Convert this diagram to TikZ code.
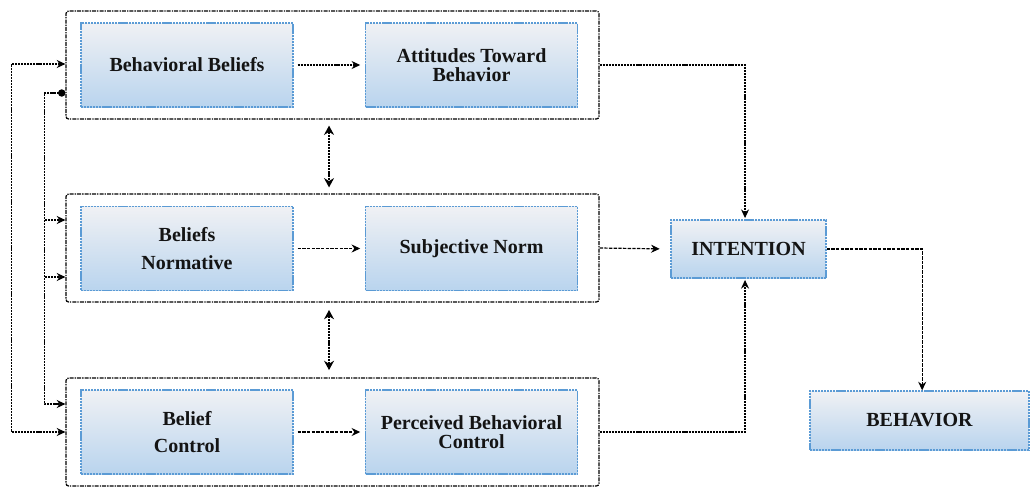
\documentclass[tikz,border=0pt]{standalone}
\usepackage{fontspec}
\setmainfont{Liberation Serif}[BoldFont={Liberation Serif Bold}]
\newfontfamily\boxfont{Liberation Serif Bold}
\usetikzlibrary{arrows.meta,positioning,calc}
\definecolor{boxtop}{HTML}{F0F1F4}
\definecolor{boxbot}{HTML}{B9D4EE}
\definecolor{boxline}{HTML}{5B9BD5}
\definecolor{txt}{HTML}{141414}
\tikzset{
  tbox/.style={rectangle, top color=boxtop, bottom color=boxbot, draw=boxline,
    line width=0.9pt, dash pattern=on 1.6pt off 0.6pt, align=center, text=txt,
    font={\boxfont\fontsize{15}{14.5}\selectfont}, inner sep=0pt},
  grp/.style={rectangle, draw=black, line width=0.9pt, rounded corners=2pt,
    dash pattern=on 3pt off 0.8pt on 1pt off 0.8pt, minimum width=399.75pt, minimum height=81pt},
  conn/.style={draw=black, line width=0.9pt, dash pattern=on 1.6pt off 0.7pt,
    arrows={-Stealth[length=6.5pt,width=6pt]}},
  dconn/.style={draw=black, line width=0.9pt, dash pattern=on 2.6pt off 0.9pt,
    arrows={-Stealth[length=6.5pt,width=6pt]}},
}
\begin{document}
\begin{tikzpicture}[x=0.75pt,y=-0.75pt]
\useasboundingbox (0,0) rectangle (1031,487);
% groups
\node[grp] (g1) at (332.5,65) {};
\node[grp] (g2) at (332.5,248) {};
\node[grp] (g3) at (332.5,432) {};
% boxes
\node[tbox, minimum width=159pt, minimum height=63pt] (bb) at (187,65) {Behavioral Beliefs};
\node[tbox, minimum width=159pt, minimum height=63pt] (atb) at (471.5,65) {Attitudes Toward\\Behavior};
\node[tbox, minimum width=159pt, minimum height=63pt] (bn) at (187,248.5) {Beliefs\\[6pt]Normative};
\node[tbox, minimum width=159pt, minimum height=63pt] (sn) at (471.5,248.5) {Subjective Norm};
\node[tbox, minimum width=159pt, minimum height=63pt] (bc) at (187,432) {Belief\\[6pt]Control};
\node[tbox, minimum width=159pt, minimum height=63pt] (pbc) at (471.5,432) {Perceived Behavioral\\Control};
\node[tbox, minimum width=116.25pt, minimum height=43.5pt] (int) at (748.5,249) {INTENTION};
\node[tbox, minimum width=164.25pt, minimum height=44.25pt] (beh) at (919.5,420.5) {BEHAVIOR};
% inner arrows
\draw[conn, shorten <=3pt, shorten >=3.5pt] (bb) -- (atb);
\draw[dconn, shorten <=3pt, shorten >=3.5pt] (bn) -- (sn);
\draw[dconn, shorten <=3pt, shorten >=3.5pt] (bc) -- (pbc);
% between groups
\draw[conn, arrows={Stealth[length=7pt,width=7.5pt]-Stealth[length=7pt,width=7.5pt]}, shorten <=4.5pt, shorten >=4.5pt]
  ([xshift=-2.6pt]g1.south) -- ([xshift=-2.6pt]g2.north);
\draw[conn, arrows={Stealth[length=7pt,width=7.5pt]-Stealth[length=7pt,width=7.5pt]}, shorten <=5.5pt, shorten >=5.5pt]
  ([xshift=-2.6pt]g2.south) -- ([xshift=-2.6pt]g3.north);
% to intention
\draw[conn, shorten >=1pt] (g1.east) -| ([xshift=-2.6pt]int.north);
\draw[dconn, shorten >=8pt] (g2.east) -- (int.west);
\draw[conn, shorten >=1pt] (g3.east) -| ([xshift=-2.6pt]int.south);
% to behavior
\draw[dconn] (int.east) -| ([xshift=2pt]beh.north);
% feedback lines on the left
\draw[conn, arrows={Stealth[length=6.5pt,width=6pt]-Stealth[length=6.5pt,width=6pt]}]
  ([yshift=0.75pt]g1.west) -- ++(-54,0) |- (g3.west);
\draw[conn, arrows={Circle[length=5.5pt]-Stealth[length=6.5pt,width=6pt]}]
  ([yshift=-21pt]g1.west) -- ++(-21,0) coordinate (ic) |- ([yshift=21pt]g3.west);
\coordinate (b1) at (45,220);
\coordinate (b2) at (45,277);
\draw[conn] (b1) -- (b1 -| g2.west);
\draw[conn] (b2) -- (b2 -| g2.west);
\end{tikzpicture}
\end{document}
